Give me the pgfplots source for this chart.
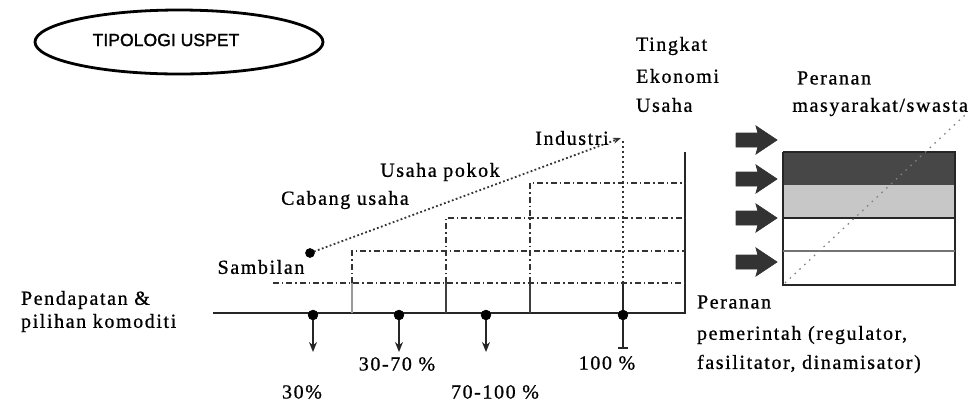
\documentclass[border=0pt]{standalone}
\usepackage{pgfplots}
\pgfplotsset{compat=1.18}
\usepackage{fontspec}
\setmainfont{Liberation Serif}[LetterSpace=8, FakeBold=0.8]
\newfontfamily\hdr{Liberation Sans}[FakeBold=1.5]
\usetikzlibrary{shapes.geometric,arrows.meta}
\begin{document}
\begin{tikzpicture}
\begin{axis}[scale only axis, width=488pt, height=201.5pt,
  xmin=0, xmax=976, ymin=0, ymax=403, y dir=reverse,
  hide axis, clip=false,
  every node/.append style={font=\fontsize{11.5}{13}\selectfont, text=black!85, inner sep=0pt}]
% ---- title ellipse
\node[draw=black, ellipse, line width=1.4pt, minimum width=144pt, minimum height=32pt] at (axis cs:179,42) {};
\node[font=\hdr\fontsize{8.8}{10}\selectfont] at (axis cs:166,40) {TIPOLOGI USPET};
% ---- baseline and right vertical
\addplot[black!85, line width=0.9pt] coordinates {(213,313) (685,313) (685,152)};
% ---- light solid verticals below lowest level
\addplot[black!40, line width=0.6pt] coordinates {(352,283) (352,313)};
\addplot[black!75, line width=0.7pt] coordinates {(446,283) (446,313)};
\addplot[black!75, line width=0.7pt] coordinates {(530,283) (530,313)};
\addplot[black!85, line width=0.8pt] coordinates {(623,283) (623,313)};
% ---- dash-dot levels
\addplot[black!80, line width=0.9pt, dash pattern=on 3pt off 1.5pt on 0.7pt off 1.5pt] coordinates {(273,283) (685,283)};
\addplot[black!80, line width=0.9pt, dash pattern=on 3pt off 1.5pt on 0.7pt off 1.5pt] coordinates {(352,283) (352,251) (685,251)};
\addplot[black!80, line width=0.9pt, dash pattern=on 3pt off 1.5pt on 0.7pt off 1.5pt] coordinates {(446,283) (446,218) (685,218)};
\addplot[black!80, line width=0.9pt, dash pattern=on 3pt off 1.5pt on 0.7pt off 1.5pt] coordinates {(530,283) (530,183) (685,183)};
\addplot[black!80, line width=0.9pt, dash pattern=on 1pt off 1.5pt] coordinates {(623,283) (623,140)};
% ---- diagonal Sambilan -> Industri
\addplot[black!80, line width=0.9pt, dash pattern=on 0.9pt off 1.2pt, -{Stealth[length=4pt,width=3pt]}] coordinates {(310,253) (621,138)};
\addplot[only marks, mark=*, mark size=2.2pt, black] coordinates {(310,253)};
% ---- baseline dots and down arrows
\addplot[black!85, line width=0.7pt, -{Stealth[length=5pt,width=4pt]}] coordinates {(313,315) (313,352)};
\addplot[black!85, line width=0.7pt, -{Stealth[length=5pt,width=4pt]}] coordinates {(399,315) (399,352)};
\addplot[black!85, line width=0.7pt, -{Stealth[length=5pt,width=4pt]}] coordinates {(486,315) (486,352)};
\addplot[black!85, line width=0.7pt] coordinates {(623,315) (623,348)};
\addplot[black!85, line width=0.8pt] coordinates {(618,348) (628,348)};
\addplot[only marks, mark=*, mark size=2.4pt, black] coordinates {(313,315) (399,315) (486,315) (623,315)};
% ---- block arrows
\addplot[fill=black!80, draw=black!80] coordinates {(736,133) (758,133) (756,126) (777,140) (756,154) (758,147) (736,147) (736,133)};
\addplot[fill=black!80, draw=black!80] coordinates {(736,172) (758,172) (756,165) (777,179) (756,193) (758,186) (736,186) (736,172)};
\addplot[fill=black!80, draw=black!80] coordinates {(736,211) (758,211) (756,204) (777,218) (756,232) (758,225) (736,225) (736,211)};
\addplot[fill=black!80, draw=black!80] coordinates {(736,255) (758,255) (756,248) (777,262) (756,276) (758,269) (736,269) (736,255)};
% ---- right box
\addplot[fill=black!72, draw=none] coordinates {(783,152) (955,152) (955,185) (783,185) (783,152)};
\addplot[fill=black!22, draw=none] coordinates {(783,185) (955,185) (955,218) (783,218) (783,185)};
\addplot[black!85, line width=0.9pt] coordinates {(783,152) (955,152) (955,285) (783,285) (783,152)};
\addplot[black!85, line width=0.9pt] coordinates {(783,218) (955,218)};
\addplot[black!55, line width=0.6pt] coordinates {(783,251) (955,251)};
\addplot[black!50, line width=0.6pt, dash pattern=on 0.8pt off 2.5pt] coordinates {(785,283) (965,115)};
% ---- texts
\node[anchor=west] at (axis cs:14,300) {Pendapatan \&};
\node[anchor=west] at (axis cs:14,323) {pilihan komoditi};
\node at (axis cs:261,267) {Sambilan};
\node at (axis cs:345,200) {Cabang usaha};
\node at (axis cs:440,172) {Usaha pokok};
\node at (axis cs:572,138) {Industri};
\node[anchor=west] at (axis cs:629,46) {Tingkat};
\node[anchor=west] at (axis cs:629,76) {Ekonomi};
\node[anchor=west] at (axis cs:629,105) {Usaha};
\node[anchor=west] at (axis cs:790,78) {Peranan};
\node[anchor=east] at (axis cs:975,107) {masyarakat/swasta};
\node[anchor=west] at (axis cs:690,302) {Peranan};
\node[anchor=west] at (axis cs:690,335) {pemerintah (regulator,};
\node[anchor=west] at (axis cs:690,364) {fasilitator, dinamisator)};
\node at (axis cs:302,392) {30\%};
\node at (axis cs:397,364) {30-70 \%};
\node at (axis cs:495,392) {70-100 \%};
\node at (axis cs:607,363) {100 \%};
\end{axis}
\pgfresetboundingbox
\path (current axis.south west) rectangle (current axis.north east);
\end{tikzpicture}
\end{document}
